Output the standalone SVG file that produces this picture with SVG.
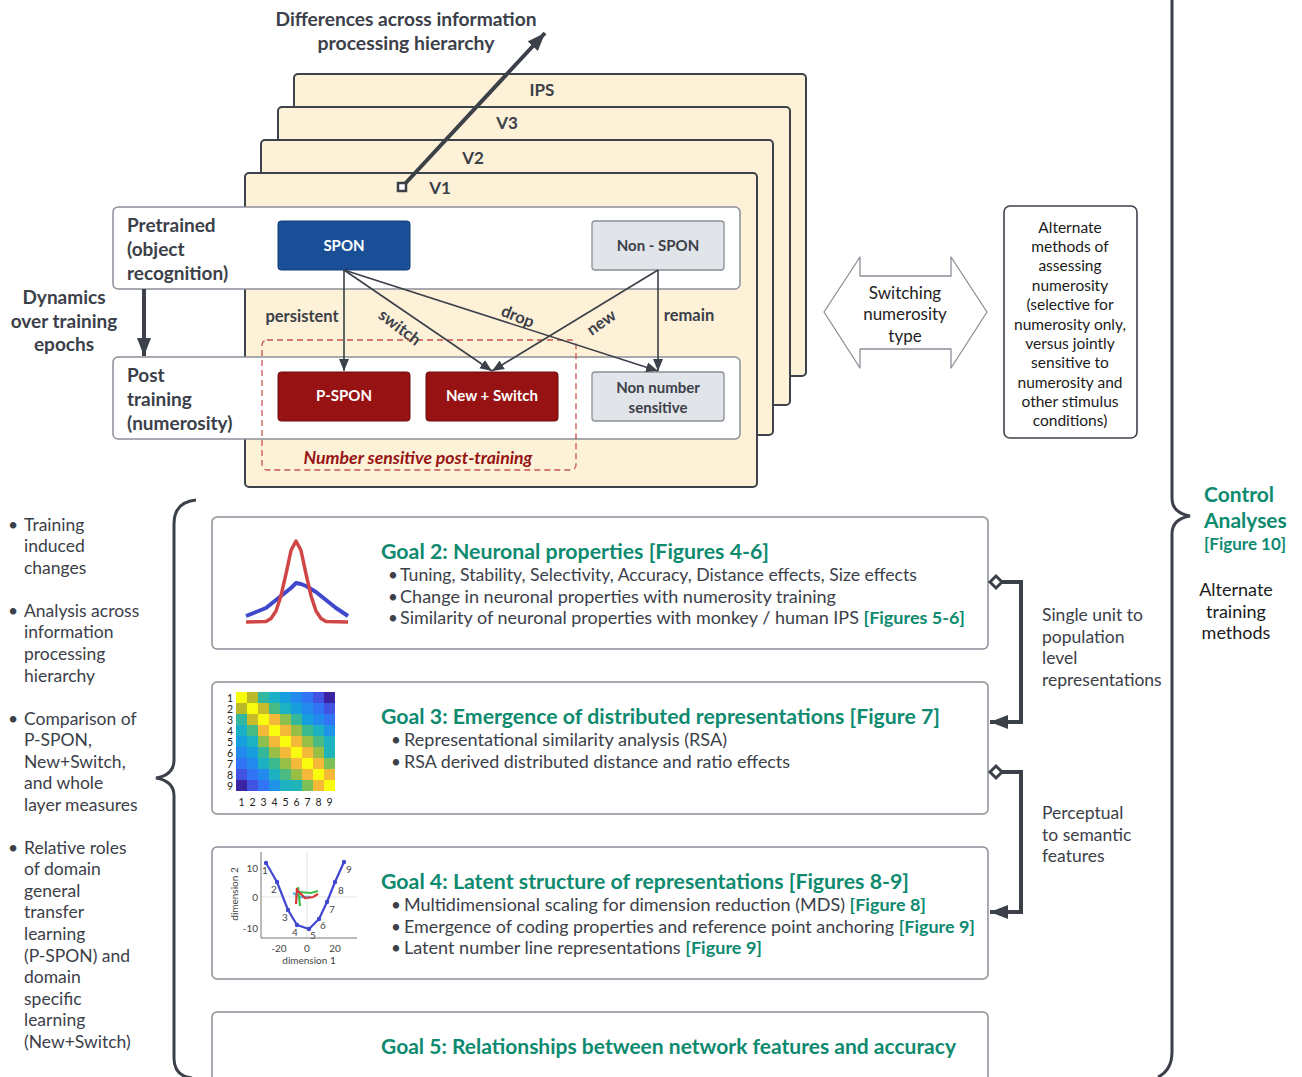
<svg xmlns="http://www.w3.org/2000/svg" width="1302" height="1077" viewBox="0 0 1302 1077">
<style>
text{font-family:Lato,"Noto Sans",sans-serif;fill:#3b4049;dominant-baseline:central}
.b{font-weight:700}
.c{text-anchor:middle}
.e{text-anchor:end}
.teal{fill:#0e8a6f}
.layer{fill:#fdf1d7;stroke:#3d434b;stroke-width:2}
.stage{fill:#fff;stroke:#8b9098;stroke-width:1.5}
.goal{fill:#fff;stroke:#8b9098;stroke-width:1.5}
.wt{fill:#fff}
.thin{fill:none;stroke:#3b4049;stroke-width:1.6}
.thick{fill:none;stroke:#3b4049;stroke-width:4}
.brace{fill:none;stroke:#3b4049;stroke-width:3}
.body{font-size:17px}
.gt{font-size:21px;font-weight:700;fill:#0e8a6f}
.ax{font-size:10px;fill:#444}
</style>
<defs>
<marker id="ah" viewBox="0 0 12 10" refX="12" refY="5" markerWidth="12" markerHeight="10" markerUnits="userSpaceOnUse" orient="auto"><path d="M0,0 L12,5 L0,10 z" fill="#3b4049"/></marker>
<marker id="ahB" viewBox="0 0 18 14" refX="18" refY="7" markerWidth="18" markerHeight="14" markerUnits="userSpaceOnUse" orient="auto"><path d="M0,0 L18,7 L0,14 z" fill="#3b4049"/></marker>
<marker id="dia" viewBox="-9 -9 18 18" refX="0" refY="0" markerWidth="18" markerHeight="18" markerUnits="userSpaceOnUse" orient="auto"><path d="M-6,0 L0,-6 L6,0 L0,6 z" fill="#fff" stroke="#3b4049" stroke-width="3"/></marker>
<marker id="sq" viewBox="-7 -7 14 14" refX="0" refY="0" markerWidth="14" markerHeight="14" markerUnits="userSpaceOnUse" orient="0"><rect x="-4" y="-4" width="8" height="8" fill="#fff" stroke="#3b4049" stroke-width="2.5"/></marker>
</defs>
<rect width="1302" height="1077" fill="#fff"/>

<g id="layers">
<rect class="layer" x="294" y="74" width="512" height="302" rx="4"/>
<text class="b c" x="542" y="89" font-size="17">IPS</text>
<rect class="layer" x="278" y="107" width="512" height="298" rx="4"/>
<text class="b c" x="507" y="122" font-size="17">V3</text>
<rect class="layer" x="261" y="140" width="512" height="295" rx="4"/>
<text class="b c" x="473" y="157" font-size="17">V2</text>
<rect class="layer" x="245" y="173" width="512" height="314" rx="4"/>
<text class="b c" x="440" y="187" font-size="17">V1</text>
</g>

<g id="hierarchy-label">
<text class="b c" x="406" y="19" font-size="18.5" textLength="261" lengthAdjust="spacingAndGlyphs">Differences across information</text>
<text class="b c" x="406" y="43" font-size="18.5" textLength="177" lengthAdjust="spacingAndGlyphs">processing hierarchy</text>
</g>

<g id="pretrained">
<rect class="stage" x="113" y="207" width="627" height="82" rx="5"/>
<text class="b" x="127" y="224" font-size="19">Pretrained</text>
<text class="b" x="127" y="248" font-size="19">(object</text>
<text class="b" x="127" y="272" font-size="19">recognition)</text>
</g>
<g id="posttraining">
<rect class="stage" x="113" y="357" width="627" height="82" rx="5"/>
<text class="b" x="127" y="374" font-size="19">Post</text>
<text class="b" x="127" y="398" font-size="19">training</text>
<text class="b" x="127" y="422" font-size="19">(numerosity)</text>
</g>

<g id="number-sensitive">
<rect x="262" y="340" width="314" height="130" rx="5" fill="none" stroke="#c9534f" stroke-width="1.3" stroke-dasharray="6,4"/>
<text class="b c" x="418" y="458" font-size="16.5" font-style="italic" style="fill:#961414" textLength="229" lengthAdjust="spacingAndGlyphs">Number sensitive post-training</text>
</g>

<g id="spon">
<rect x="278" y="221" width="132" height="49" rx="3" fill="#1a4f97" stroke="#123c75" stroke-width="1"/>
<text class="b c wt" x="344" y="245" font-size="15">SPON</text>
</g>
<g id="non-spon">
<rect x="592" y="221" width="132" height="49" rx="3" fill="#e1e4e8" stroke="#8b9098" stroke-width="1.3"/>
<text class="b c" x="658" y="245" font-size="15">Non - SPON</text>
</g>
<g id="p-spon">
<rect x="278" y="372" width="132" height="49" rx="3" fill="#971313" stroke="#6e0e0e" stroke-width="1"/>
<text class="b c wt" x="344" y="395" font-size="15">P-SPON</text>
</g>
<g id="new-switch">
<rect x="426" y="372" width="132" height="49" rx="3" fill="#971313" stroke="#6e0e0e" stroke-width="1"/>
<text class="b c wt" x="492" y="395" font-size="15">New + Switch</text>
</g>
<g id="non-number">
<rect x="592" y="372" width="132" height="49" rx="3" fill="#e1e4e8" stroke="#8b9098" stroke-width="1.3"/>
<text class="b c" x="658" y="387" font-size="15">Non number</text>
<text class="b c" x="658" y="407" font-size="15">sensitive</text>
</g>

<g id="dynamics-label">
<text class="b c" x="64" y="296" font-size="19">Dynamics</text>
<text class="b c" x="64" y="320" font-size="19">over training</text>
<text class="b c" x="64" y="343" font-size="19">epochs</text>
</g>

<g id="switching">
<path d="M824,312 L860,257 V276 H951 V257 L987,312 L951,368 V349 H860 V368 Z" fill="#fff" stroke="#8b9098" stroke-width="1.3" stroke-linejoin="round"/>
<text class="c body" x="905" y="292" style="fill:#222">Switching</text>
<text class="c body" x="905" y="313" style="fill:#222">numerosity</text>
<text class="c body" x="905" y="335" style="fill:#222">type</text>
</g>

<g id="alternate-methods">
<rect x="1004" y="206" width="133" height="232" rx="6" fill="#fff" stroke="#3d434b" stroke-width="1.6"/>
<g font-size="15.5">
<text class="c" x="1070" y="227" style="fill:#1a1a1a">Alternate</text>
<text class="c" x="1070" y="246" style="fill:#1a1a1a">methods of</text>
<text class="c" x="1070" y="265" style="fill:#1a1a1a">assessing</text>
<text class="c" x="1070" y="285" style="fill:#1a1a1a">numerosity</text>
<text class="c" x="1070" y="304" style="fill:#1a1a1a">(selective for</text>
<text class="c" x="1070" y="324" style="fill:#1a1a1a">numerosity only,</text>
<text class="c" x="1070" y="343" style="fill:#1a1a1a">versus jointly</text>
<text class="c" x="1070" y="362" style="fill:#1a1a1a">sensitive to</text>
<text class="c" x="1070" y="382" style="fill:#1a1a1a">numerosity and</text>
<text class="c" x="1070" y="401" style="fill:#1a1a1a">other stimulus</text>
<text class="c" x="1070" y="420" style="fill:#1a1a1a">conditions)</text>
</g>
</g>

<g id="control-analyses">
<path class="brace" d="M1172,0 V498 Q1172,513 1190,516 Q1172,519 1172,534 V1052 Q1172,1070 1158,1077"/>
<text class="b teal" x="1204" y="493" font-size="21">Control</text>
<text class="b teal" x="1204" y="519" font-size="21">Analyses</text>
<text class="b teal" x="1204" y="543" font-size="17">[Figure 10]</text>
<text class="c" x="1236" y="589" font-size="18" style="fill:#1a1a1a">Alternate</text>
<text class="c" x="1236" y="611" font-size="18" style="fill:#1a1a1a">training</text>
<text class="c" x="1236" y="632" font-size="18" style="fill:#1a1a1a">methods</text>
</g>

<g id="left-summary" class="body">
<path class="brace" d="M196,500 Q174,502 174,524 V760 Q174,775 156,778 Q174,781 174,796 V1058 Q174,1076 192,1078"/>
<g font-size="17.5">
<text x="8" y="524">•</text>
<text x="24" y="524">Training</text>
<text x="24" y="545">induced</text>
<text x="24" y="567">changes</text>
<text x="8" y="610">•</text>
<text x="24" y="610">Analysis across</text>
<text x="24" y="631">information</text>
<text x="24" y="653">processing</text>
<text x="24" y="675">hierarchy</text>
<text x="8" y="718">•</text>
<text x="24" y="718">Comparison of</text>
<text x="24" y="739">P-SPON,</text>
<text x="24" y="761">New+Switch,</text>
<text x="24" y="782">and whole</text>
<text x="24" y="804">layer measures</text>
<text x="8" y="847">•</text>
<text x="24" y="847">Relative roles</text>
<text x="24" y="868">of domain</text>
<text x="24" y="890">general</text>
<text x="24" y="911">transfer</text>
<text x="24" y="933">learning</text>
<text x="24" y="955">(P-SPON) and</text>
<text x="24" y="976">domain</text>
<text x="24" y="998">specific</text>
<text x="24" y="1019">learning</text>
<text x="24" y="1041">(New+Switch)</text>
</g>
</g>

<g id="goal2">
<rect class="goal" x="212" y="517" width="776" height="132" rx="5"/>
<polyline points="246,616 256,612 266,608 276,600 286,592 291,588 296,583 301,584 306,586 316,592 326,600 336,608 348,616" fill="none" stroke="#3f48cc" stroke-width="4" stroke-linejoin="round"/>
<polyline points="246,622 266,621.5 271,618.4 276,611 281,595.7 286,573.9 291,550.5 296,541 301,550.5 306,573.9 311,595.7 316,611 321,618.4 326,621.5 348,622" fill="none" stroke="#d04646" stroke-width="3.5" stroke-linejoin="round"/>
<text class="gt" x="381" y="550" textLength="388" lengthAdjust="spacingAndGlyphs">Goal 2: Neuronal properties [Figures 4-6]</text>
<text class="body" x="388" y="574">•</text>
<text class="body" x="400" y="574" textLength="517" lengthAdjust="spacingAndGlyphs">Tuning, Stability, Selectivity,  Accuracy, Distance effects, Size effects</text>
<text class="body" x="388" y="596">•</text>
<text class="body" x="400" y="596" textLength="436" lengthAdjust="spacingAndGlyphs">Change in neuronal properties with numerosity training</text>
<text class="body" x="388" y="617">•</text>
<text class="body" x="400" y="617" textLength="565" lengthAdjust="spacingAndGlyphs">Similarity of neuronal properties with monkey / human IPS <tspan class="b teal">[Figures 5-6]</tspan></text>
</g>

<g id="goal3">
<rect class="goal" x="212" y="682" width="776" height="132" rx="5"/>
<g id="rsa-matrix">
<rect x="236" y="692" width="11" height="11" fill="#f9fb0e"/><rect x="247" y="692" width="11" height="11" fill="#b9b92a"/><rect x="258" y="692" width="11" height="11" fill="#33b79e"/><rect x="269" y="692" width="11" height="11" fill="#1cb0c6"/><rect x="280" y="692" width="11" height="11" fill="#169fdc"/><rect x="291" y="692" width="11" height="11" fill="#2289ed"/><rect x="302" y="692" width="11" height="11" fill="#3274f6"/><rect x="313" y="692" width="11" height="11" fill="#4253e2"/><rect x="324" y="692" width="11" height="11" fill="#3b24a2"/>
<rect x="236" y="703" width="11" height="11" fill="#b9b92a"/><rect x="247" y="703" width="11" height="11" fill="#f9fb0e"/><rect x="258" y="703" width="11" height="11" fill="#c9bc2c"/><rect x="269" y="703" width="11" height="11" fill="#48ba84"/><rect x="280" y="703" width="11" height="11" fill="#1cb2c2"/><rect x="291" y="703" width="11" height="11" fill="#169fdc"/><rect x="302" y="703" width="11" height="11" fill="#2289ed"/><rect x="313" y="703" width="11" height="11" fill="#3274f6"/><rect x="324" y="703" width="11" height="11" fill="#4253e2"/>
<rect x="236" y="714" width="11" height="11" fill="#33b79e"/><rect x="247" y="714" width="11" height="11" fill="#c9bc2c"/><rect x="258" y="714" width="11" height="11" fill="#f9fb0e"/><rect x="269" y="714" width="11" height="11" fill="#f5b93a"/><rect x="280" y="714" width="11" height="11" fill="#8cbf4c"/><rect x="291" y="714" width="11" height="11" fill="#35b79a"/><rect x="302" y="714" width="11" height="11" fill="#169fdc"/><rect x="313" y="714" width="11" height="11" fill="#2289ed"/><rect x="324" y="714" width="11" height="11" fill="#3274f6"/>
<rect x="236" y="725" width="11" height="11" fill="#1cb0c6"/><rect x="247" y="725" width="11" height="11" fill="#48ba84"/><rect x="258" y="725" width="11" height="11" fill="#f5b93a"/><rect x="269" y="725" width="11" height="11" fill="#f9fb0e"/><rect x="280" y="725" width="11" height="11" fill="#f5b93a"/><rect x="291" y="725" width="11" height="11" fill="#98be46"/><rect x="302" y="725" width="11" height="11" fill="#3cb98f"/><rect x="313" y="725" width="11" height="11" fill="#1cb2c2"/><rect x="324" y="725" width="11" height="11" fill="#1f93e6"/>
<rect x="236" y="736" width="11" height="11" fill="#169fdc"/><rect x="247" y="736" width="11" height="11" fill="#1cb2c2"/><rect x="258" y="736" width="11" height="11" fill="#8cbf4c"/><rect x="269" y="736" width="11" height="11" fill="#f5b93a"/><rect x="280" y="736" width="11" height="11" fill="#f9fb0e"/><rect x="291" y="736" width="11" height="11" fill="#f5b93a"/><rect x="302" y="736" width="11" height="11" fill="#98be46"/><rect x="313" y="736" width="11" height="11" fill="#4cbb82"/><rect x="324" y="736" width="11" height="11" fill="#1cb2c2"/>
<rect x="236" y="747" width="11" height="11" fill="#2289ed"/><rect x="247" y="747" width="11" height="11" fill="#169fdc"/><rect x="258" y="747" width="11" height="11" fill="#35b79a"/><rect x="269" y="747" width="11" height="11" fill="#98be46"/><rect x="280" y="747" width="11" height="11" fill="#f5b93a"/><rect x="291" y="747" width="11" height="11" fill="#f9fb0e"/><rect x="302" y="747" width="11" height="11" fill="#f5b93a"/><rect x="313" y="747" width="11" height="11" fill="#98be46"/><rect x="324" y="747" width="11" height="11" fill="#20b4b8"/>
<rect x="236" y="758" width="11" height="11" fill="#3274f6"/><rect x="247" y="758" width="11" height="11" fill="#2289ed"/><rect x="258" y="758" width="11" height="11" fill="#1cb2c2"/><rect x="269" y="758" width="11" height="11" fill="#3cb98f"/><rect x="280" y="758" width="11" height="11" fill="#98be46"/><rect x="291" y="758" width="11" height="11" fill="#f5b93a"/><rect x="302" y="758" width="11" height="11" fill="#f9fb0e"/><rect x="313" y="758" width="11" height="11" fill="#f5b93a"/><rect x="324" y="758" width="11" height="11" fill="#7dc05a"/>
<rect x="236" y="769" width="11" height="11" fill="#4253e2"/><rect x="247" y="769" width="11" height="11" fill="#3274f6"/><rect x="258" y="769" width="11" height="11" fill="#2289ed"/><rect x="269" y="769" width="11" height="11" fill="#1cb2c2"/><rect x="280" y="769" width="11" height="11" fill="#4cbb82"/><rect x="291" y="769" width="11" height="11" fill="#98be46"/><rect x="302" y="769" width="11" height="11" fill="#f5b93a"/><rect x="313" y="769" width="11" height="11" fill="#f9fb0e"/><rect x="324" y="769" width="11" height="11" fill="#f5b93a"/>
<rect x="236" y="780" width="11" height="11" fill="#3b24a2"/><rect x="247" y="780" width="11" height="11" fill="#4253e2"/><rect x="258" y="780" width="11" height="11" fill="#3274f6"/><rect x="269" y="780" width="11" height="11" fill="#1f93e6"/><rect x="280" y="780" width="11" height="11" fill="#1cb2c2"/><rect x="291" y="780" width="11" height="11" fill="#20b4b8"/><rect x="302" y="780" width="11" height="11" fill="#7dc05a"/><rect x="313" y="780" width="11" height="11" fill="#f5b93a"/><rect x="324" y="780" width="11" height="11" fill="#f9fb0e"/>
<g font-size="10.5">
<text class="e" x="233" y="697.5" style="fill:#222">1</text><text class="e" x="233" y="708.5" style="fill:#222">2</text><text class="e" x="233" y="719.5" style="fill:#222">3</text><text class="e" x="233" y="730.5" style="fill:#222">4</text><text class="e" x="233" y="741.5" style="fill:#222">5</text><text class="e" x="233" y="752.5" style="fill:#222">6</text><text class="e" x="233" y="763.5" style="fill:#222">7</text><text class="e" x="233" y="774.5" style="fill:#222">8</text><text class="e" x="233" y="785.5" style="fill:#222">9</text>
<text class="c" x="241.5" y="802" style="fill:#222">1</text><text class="c" x="252.5" y="802" style="fill:#222">2</text><text class="c" x="263.5" y="802" style="fill:#222">3</text><text class="c" x="274.5" y="802" style="fill:#222">4</text><text class="c" x="285.5" y="802" style="fill:#222">5</text><text class="c" x="296.5" y="802" style="fill:#222">6</text><text class="c" x="307.5" y="802" style="fill:#222">7</text><text class="c" x="318.5" y="802" style="fill:#222">8</text><text class="c" x="329.5" y="802" style="fill:#222">9</text>
</g>
</g>
<text class="gt" x="381" y="715" textLength="559" lengthAdjust="spacingAndGlyphs">Goal 3: Emergence of distributed representations [Figure 7]</text>
<text class="body" x="391" y="739">•</text>
<text class="body" x="404" y="739" textLength="323" lengthAdjust="spacingAndGlyphs">Representational similarity analysis (RSA)</text>
<text class="body" x="391" y="761">•</text>
<text class="body" x="404" y="761" textLength="386" lengthAdjust="spacingAndGlyphs">RSA derived distributed distance and ratio effects</text>
</g>

<g id="goal4">
<rect class="goal" x="212" y="847" width="776" height="132" rx="5"/>
<g id="mds-plot">
<line x1="307" y1="852" x2="307" y2="938" stroke="#e2e2e2" stroke-width="1"/>
<line x1="261" y1="897" x2="357" y2="897" stroke="#e2e2e2" stroke-width="1"/>
<path d="M261,852 V938 H357" fill="none" stroke="#777" stroke-width="1"/>
<polyline points="266,863 277,882 288,910 297,925 309,929 319,919 327,902 335,882 344,862" fill="none" stroke="#4146d0" stroke-width="2.2" stroke-linejoin="round"/>
<g fill="#4146d0"><circle cx="266" cy="863" r="2.2"/><circle cx="277" cy="882" r="2.2"/><circle cx="288" cy="910" r="2.2"/><circle cx="297" cy="925" r="2.2"/><circle cx="309" cy="929" r="2.2"/><circle cx="319" cy="919" r="2.2"/><circle cx="327" cy="902" r="2.2"/><circle cx="335" cy="882" r="2.2"/><circle cx="344" cy="862" r="2.2"/></g>
<polyline points="293,893 300,897 310,897" fill="none" stroke="#4cc4ee" stroke-width="2.5"/>
<polyline points="298,887 300,906" fill="none" stroke="#3cc04a" stroke-width="2.2"/>
<polyline points="299,892 311,893 318,891" fill="none" stroke="#3cc04a" stroke-width="2.2"/>
<polyline points="297,888 296,904" fill="none" stroke="#d43a3a" stroke-width="2.2"/>
<polyline points="297,890 305,898 313,897 318,894" fill="none" stroke="#d43a3a" stroke-width="2.2"/>
<text x="262" y="870" class="ax">1</text><text x="271" y="889" class="ax">2</text><text x="282" y="917" class="ax">3</text><text x="292" y="932" class="ax">4</text><text x="310" y="935" class="ax">5</text><text x="320" y="925" class="ax">6</text><text x="329" y="909" class="ax">7</text><text x="338" y="890" class="ax">8</text><text x="346" y="869" class="ax">9</text>
<text class="ax e" x="258" y="868">10</text><text class="ax e" x="258" y="897">0</text><text class="ax e" x="258" y="928">-10</text>
<text class="ax c" x="279" y="948">-20</text><text class="ax c" x="307" y="948">0</text><text class="ax c" x="335" y="948">20</text>
<text class="ax c" x="309" y="960">dimension 1</text>
<text class="ax c" x="234" y="894" transform="rotate(-90 234 894)">dimension 2</text>
</g>
<text class="gt" x="381" y="880" textLength="528" lengthAdjust="spacingAndGlyphs">Goal 4: Latent structure of representations [Figures 8-9]</text>
<text class="body" x="391" y="904">•</text>
<text class="body" x="404" y="904" textLength="522" lengthAdjust="spacingAndGlyphs">Multidimensional scaling for dimension reduction (MDS) <tspan class="b teal">[Figure 8]</tspan></text>
<text class="body" x="391" y="926">•</text>
<text class="body" x="404" y="926" textLength="571" lengthAdjust="spacingAndGlyphs">Emergence of coding properties and reference point anchoring <tspan class="b teal">[Figure 9]</tspan></text>
<text class="body" x="391" y="947">•</text>
<text class="body" x="404" y="947" textLength="358" lengthAdjust="spacingAndGlyphs">Latent number line representations <tspan class="b teal">[Figure 9]</tspan></text>
</g>

<g id="goal5">
<rect class="goal" x="212" y="1012" width="776" height="80" rx="5"/>
<text class="gt" x="381" y="1045" textLength="575" lengthAdjust="spacingAndGlyphs">Goal 5: Relationships between network features and accuracy</text>
</g>

<g id="connector-labels">
<text class="b c" x="302" y="316" font-size="16.5">persistent</text>
<text class="b c" x="400" y="327" font-size="16.5" transform="rotate(37 400 327)">switch</text>
<text class="b c" x="518" y="316" font-size="16.5" transform="rotate(22 518 316)">drop</text>
<text class="b c" x="601" y="322" font-size="16.5" transform="rotate(-35 601 322)">new</text>
<text class="b c" x="689" y="315" font-size="16.5">remain</text>
<g font-size="17.5">
<text x="1042" y="614">Single unit to</text>
<text x="1042" y="636">population</text>
<text x="1042" y="657">level</text>
<text x="1042" y="679">representations</text>
<text x="1042" y="812">Perceptual</text>
<text x="1042" y="834">to semantic</text>
<text x="1042" y="855">features</text>
</g>
</g>

<g id="connectors">
<line class="thick" x1="402" y1="187" x2="545" y2="33" stroke-width="3.5" marker-start="url(#sq)" marker-end="url(#ahB)"/>
<line class="thick" x1="144" y1="289" x2="144" y2="356" marker-end="url(#ahB)"/>
<line class="thin" x1="344" y1="270" x2="344" y2="371" marker-end="url(#ah)"/>
<line class="thin" x1="344" y1="270" x2="492" y2="371" marker-end="url(#ah)"/>
<line class="thin" x1="344" y1="270" x2="658" y2="371" marker-end="url(#ah)"/>
<line class="thin" x1="658" y1="270" x2="492" y2="371" marker-end="url(#ah)"/>
<line class="thin" x1="658" y1="270" x2="658" y2="371" marker-end="url(#ah)"/>
<path class="thick" d="M996,582 H1021 V722 H990" marker-start="url(#dia)" marker-end="url(#ahB)"/>
<path class="thick" d="M996,772 H1021 V912 H990" marker-start="url(#dia)" marker-end="url(#ahB)"/>
</g>
</svg>
